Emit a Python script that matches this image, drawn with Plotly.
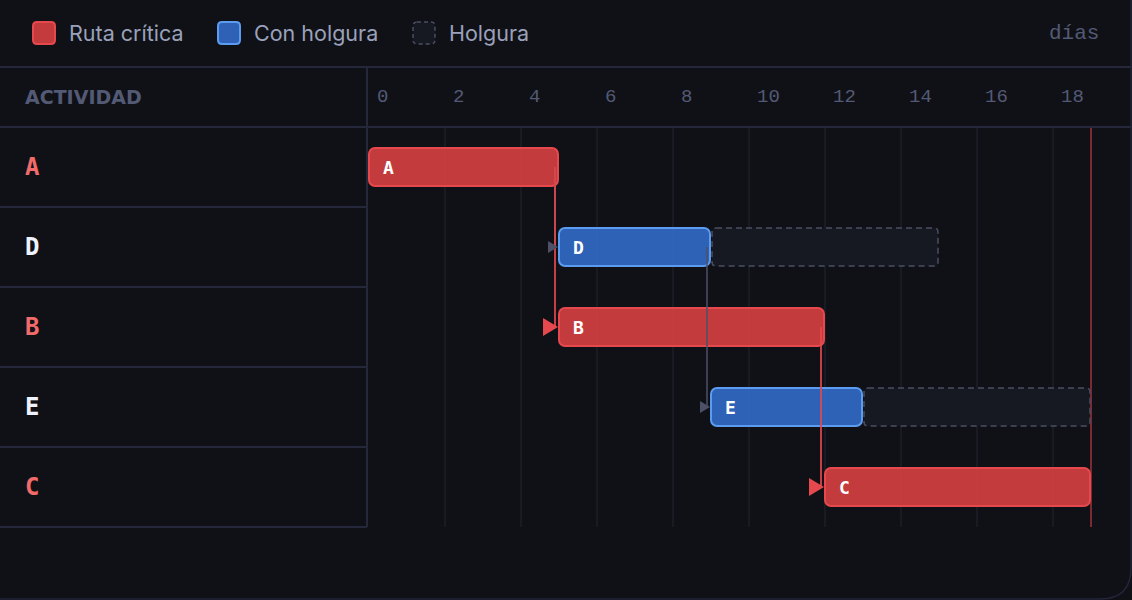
import plotly.graph_objects as go

# ---------------- data ----------------
activities = ["A", "D", "B", "E", "C"]
starts = [0, 5, 5, 9, 12]
durations = [5, 4, 7, 4, 7]
slacks = [0, 6, 0, 6, 0]
critical = [True, False, True, False, True]
dependencies = [("A", "D"), ("A", "B"), ("D", "E"), ("B", "C")]
tick_values = [0, 2, 4, 6, 8, 10, 12, 14, 16, 18]
project_end = 19
legend_labels = ["Ruta crítica", "Con holgura", "Holgura"]
header_label = "ACTIVIDAD"
unit_label = "días"

# ---------------- style / layout constants ----------------
W, H = 1132, 600
X0_PX, PX_DAY = 369, 38.0
ROW0_PX, PX_ROW = 167, 80.0
BG = "#101116"
LINE = "#25273a"
GRID = "#1d1f2a"
RED_FILL = "rgba(216,64,66,0.9)"
RED_LINE = "#e5484d"
BLUE_FILL = "rgba(50,107,200,0.9)"
BLUE_LINE = "#5b9cf0"
SLACK_FILL = "#161922"
SLACK_LINE = "#4a4e62"
GRAY_DEP = "#4c5168"
MUTED = "#535a75"
LEGEND_TXT = "#9aa1bb"
BAR_W = 0.475


def dx(px):
    return px / PX_DAY


def dy(px):
    return px / PX_ROW


def ypx(y):
    return (y - ROW0_PX) / PX_ROW


def xpx(x):
    return (x - X0_PX) / PX_DAY


def pxp(x):
    return x / W


def pyp(y):
    return 1 - y / H


row_of = {a: i for i, a in enumerate(activities)}
ends = [s + d for s, d in zip(starts, durations)]

fig = go.Figure()

shapes = []
annotations = []

# grid lines
for t in tick_values:
    if t == 0:
        continue
    shapes.append(dict(type="line", xref="x", yref="y", x0=t, x1=t,
                       y0=-0.5, y1=len(activities) - 0.5,
                       line=dict(color=GRID, width=1.5), layer="below"))

# project end line
shapes.append(dict(type="line", xref="x", yref="y", x0=project_end, x1=project_end,
                   y0=-0.5, y1=len(activities) - 0.5,
                   line=dict(color="#7a2a30", width=2), layer="below"))

# table lines
shapes.append(dict(type="line", xref="paper", yref="y", x0=0, x1=1,
                   y0=ypx(67), y1=ypx(67), line=dict(color=LINE, width=2)))
shapes.append(dict(type="line", xref="paper", yref="y", x0=0, x1=1,
                   y0=-0.5, y1=-0.5, line=dict(color=LINE, width=2)))
for i in range(len(activities)):
    shapes.append(dict(type="line", xref="paper", yref="y", x0=0, x1=pxp(367),
                       y0=i + 0.5, y1=i + 0.5, line=dict(color=LINE, width=2)))
shapes.append(dict(type="line", xref="paper", yref="y", x0=pxp(367), x1=pxp(367),
                   y0=ypx(67), y1=len(activities) - 0.5, line=dict(color=LINE, width=2)))

# card corner border
shapes.append(dict(type="path", xref="paper", yref="paper",
                   path=f"M {pxp(1131)},{pyp(0)} L {pxp(1131)},{pyp(568)} "
                        f"Q {pxp(1131)},{pyp(599)} {pxp(1100)},{pyp(599)} L 0,{pyp(599)}",
                   line=dict(color="#22243a", width=1.5)))


def rounded_rect(x0, x1, y0, y1, r_px):
    rx, ry = dx(r_px), dy(r_px)
    return (f"M {x0+rx},{y0} L {x1-rx},{y0} Q {x1},{y0} {x1},{y0+ry} "
            f"L {x1},{y1-ry} Q {x1},{y1} {x1-rx},{y1} L {x0+rx},{y1} "
            f"Q {x0},{y1} {x0},{y1-ry} L {x0},{y0+ry} Q {x0},{y0} {x0+rx},{y0} Z")


# slack boxes
for i, a in enumerate(activities):
    if slacks[i] > 0:
        shapes.append(dict(type="path", xref="x", yref="y",
                           path=rounded_rect(ends[i] + dx(1), ends[i] + slacks[i] - dx(1),
                                             i - BAR_W / 2, i + BAR_W / 2, 4),
                           fillcolor=SLACK_FILL,
                           line=dict(color=SLACK_LINE, width=1.5, dash="6px,4px"),
                           layer="below"))

# dependency lines (drawn before bars)
for p, s in dependencies:
    ip, is_ = row_of[p], row_of[s]
    crit = critical[ip] and critical[is_]
    xline = ends[ip] - dx(4)
    fig.add_trace(go.Scatter(
        x=[xline, xline], y=[ip, is_], mode="lines",
        line=dict(color=RED_LINE if crit else GRAY_DEP, width=2 if crit else 1.5),
        opacity=0.85 if crit else 1.0, hoverinfo="skip", showlegend=False))

# bars
for crit_flag, fill, edge in [(True, RED_FILL, RED_LINE), (False, BLUE_FILL, BLUE_LINE)]:
    idx = [i for i in range(len(activities)) if critical[i] == crit_flag]
    fig.add_trace(go.Bar(
        orientation="h",
        y=idx,
        x=[durations[i] - dx(1) for i in idx],
        base=[starts[i] for i in idx],
        width=BAR_W,
        marker=dict(color=fill, line=dict(color=edge, width=2)),
        hoverinfo="skip", showlegend=False))

# arrow heads
for p, s in dependencies:
    ip, is_ = row_of[p], row_of[s]
    crit = critical[ip] and critical[is_]
    tip = starts[is_] - dx(1)
    wpx, hpx = (15, 18) if crit else (10, 12)
    fig.add_trace(go.Scatter(
        x=[tip - dx(wpx), tip, tip - dx(wpx), tip - dx(wpx)],
        y=[is_ - dy(hpx / 2), is_, is_ + dy(hpx / 2), is_ - dy(hpx / 2)],
        mode="lines", fill="toself",
        fillcolor=RED_LINE if crit else GRAY_DEP,
        line=dict(width=0, color=RED_LINE if crit else GRAY_DEP),
        hoverinfo="skip", showlegend=False))

# bar labels
for i, a in enumerate(activities):
    annotations.append(dict(x=starts[i], y=i, xref="x", yref="y", text=f"<b>{a}</b>",
                            showarrow=False, xanchor="left", yanchor="middle", xshift=12,
                            font=dict(family="DejaVu Sans Mono", size=18, color="#ffffff")))

# row labels
for i, a in enumerate(activities):
    annotations.append(dict(x=pxp(23), y=i, xref="paper", yref="y", text=f"<b>{a}</b>",
                            showarrow=False, xanchor="left", yanchor="middle",
                            font=dict(family="DejaVu Sans Mono", size=24,
                                      color="#f26b6b" if critical[i] else "#eef3ff")))

# header
annotations.append(dict(x=pxp(23), y=ypx(97), xref="paper", yref="y", text=f"<b>{header_label}</b>",
                        showarrow=False, xanchor="left", yanchor="middle",
                        font=dict(family="DejaVu Sans", size=19, color=MUTED)))

# tick labels
for t in tick_values:
    annotations.append(dict(x=t, y=ypx(97), xref="x", yref="y", text=str(t),
                            showarrow=False, xanchor="left", yanchor="middle", xshift=6,
                            font=dict(family="Liberation Mono", size=19, color=MUTED)))

# unit label
annotations.append(dict(x=pxp(1101), y=pyp(33), xref="paper", yref="paper", text=unit_label,
                        showarrow=False, xanchor="right", yanchor="middle",
                        font=dict(family="Liberation Mono", size=21, color=MUTED)))

# legend
legend_x = [33, 218, 413]
legend_styles = [
    dict(fillcolor="#c43b3d", line=dict(color=RED_LINE, width=2)),
    dict(fillcolor="#2f62b6", line=dict(color=BLUE_LINE, width=2)),
    dict(fillcolor=SLACK_FILL, line=dict(color=SLACK_LINE, width=1.5, dash="4px,3px")),
]
for lx, lab, st in zip(legend_x, legend_labels, legend_styles):
    x0, x1, y0, y1 = pxp(lx), pxp(lx + 22), pyp(22), pyp(44)
    rxp, ryp = 4 / W, 4 / H
    path = (f"M {x0+rxp},{y0} L {x1-rxp},{y0} Q {x1},{y0} {x1},{y0-ryp} "
            f"L {x1},{y1+ryp} Q {x1},{y1} {x1-rxp},{y1} L {x0+rxp},{y1} "
            f"Q {x0},{y1} {x0},{y1+ryp} L {x0},{y0-ryp} Q {x0},{y0} {x0+rxp},{y0} Z")
    shapes.append(dict(type="path", xref="paper", yref="paper", path=path, **st))
    annotations.append(dict(x=pxp(lx + 34), y=pyp(33), xref="paper", yref="paper", text=lab,
                            showarrow=False, xanchor="left", yanchor="middle",
                            font=dict(family="Inter", size=21.5, color=LEGEND_TXT)))

fig.update_layout(
    width=W, height=H,
    margin=dict(l=0, r=0, t=0, b=0),
    paper_bgcolor=BG, plot_bgcolor=BG,
    barmode="overlay",
    barcornerradius=6,
    showlegend=False,
    xaxis=dict(range=[xpx(0), xpx(W)], visible=False, fixedrange=True),
    yaxis=dict(range=[ypx(H), ypx(0)], visible=False, fixedrange=True),
    shapes=shapes,
    annotations=annotations,
)

fig.write_html("out.html", config={"displayModeBar": False})
